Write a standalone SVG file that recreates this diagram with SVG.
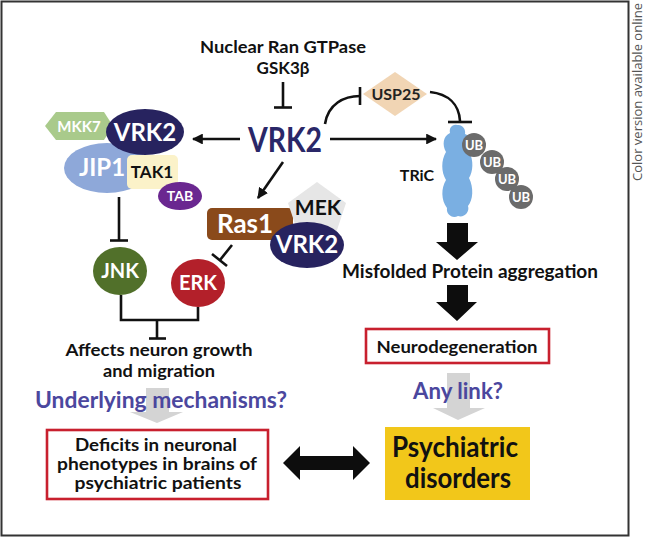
<svg xmlns="http://www.w3.org/2000/svg" width="646" height="539" viewBox="0 0 646 539">
<style>
text{font-family:Lato,"Liberation Sans",sans-serif;font-weight:700;text-anchor:middle}
.w{fill:#fff}
.k{fill:#111}
.p{fill:#4b479e}
.ln{stroke:#111;stroke-width:2.6;fill:none}
.red{fill:#fff;stroke:#c8202e;stroke-width:2.6}
.ga{fill:#d4d4d4}
.ba{fill:#0d0d0d}
</style>
<defs>
<marker id="ah" viewBox="0 0 10 10" refX="9" refY="5" markerWidth="4.2" markerHeight="4.2" orient="auto" markerUnits="strokeWidth">
<path d="M0,0 L10,5 L0,10 Z" fill="#111"/>
</marker>
</defs>
<rect x="1.5" y="1.5" width="627" height="534" fill="#fff" stroke="#333" stroke-width="2"/>
<text x="638" y="92" transform="rotate(-90 638 92)" style="font-family:'Open Sans','Noto Sans',sans-serif;font-weight:400;font-size:12px;fill:#555" textLength="178" lengthAdjust="spacingAndGlyphs" dy="4">Color version available online</text>

<g id="gray-arrows">
<polygon class="ga" points="146,388 169,388 169,412 183,412 157,423 130,412 146,412"/>
<polygon class="ga" points="447,373 470,373 470,408 485,408 458,420 433,408 447,408"/>
</g>

<g id="connectors">
<line class="ln" x1="283" y1="82" x2="283" y2="107"/>
<line class="ln" x1="274" y1="107.5" x2="292" y2="107.5"/>
<line class="ln" x1="240" y1="139" x2="193" y2="139" marker-end="url(#ah)"/>
<line class="ln" x1="330" y1="139" x2="436" y2="139" marker-end="url(#ah)"/>
<line class="ln" x1="283" y1="162" x2="258" y2="198" marker-end="url(#ah)"/>
<path class="ln" d="M325,124 C328,104 344,96 360,96"/>
<line class="ln" x1="360" y1="87" x2="360" y2="105"/>
<path class="ln" d="M430,92 C448,94 459,104 460,121"/>
<line class="ln" x1="448" y1="122" x2="472" y2="122"/>
<line class="ln" x1="119" y1="197" x2="119" y2="240"/>
<line class="ln" x1="110" y1="240.5" x2="128" y2="240.5"/>
<line class="ln" x1="232" y1="245" x2="220" y2="260"/>
<line class="ln" x1="212" y1="254" x2="227" y2="266"/>
<path class="ln" d="M121,295 V320 H198 V307"/>
<line class="ln" x1="157" y1="320" x2="157" y2="338"/>
<line class="ln" x1="149" y1="338.5" x2="166" y2="338.5"/>
<polygon class="ba" points="447,223 468,223 468,242 478,242 457,260 436,242 447,242"/>
<polygon class="ba" points="447,285 468,285 468,302 477,302 457,321 436,302 447,302"/>
<polygon class="ba" points="283,463 300,446 300,456 353,456 353,446 370,463 353,480 353,470 300,470 300,480"/>
</g>

<g id="upstream">
<text class="k" x="283" y="53" style="font-size:17px" textLength="166" lengthAdjust="spacingAndGlyphs">Nuclear Ran GTPase</text>
<text class="k" x="283" y="74" style="font-size:17px">GSK3β</text>
</g>

<g id="vrk2-center">
<text x="285" y="152" style="font-size:34px;fill:#2a2768" textLength="74" lengthAdjust="spacingAndGlyphs">VRK2</text>
</g>

<g id="jip1-complex">
<ellipse cx="107" cy="168" rx="43" ry="25" fill="#8ea8d9"/>
<rect x="127" y="155" width="51" height="34" rx="5" fill="#fbf2c9"/>
<polygon points="45,126 56,112 104,112 113,126 104,140 56,140" fill="#a9ca8b"/>
<ellipse cx="145" cy="132" rx="39" ry="23" fill="#27235f"/>
<text class="w" x="79" y="132" style="font-size:15px">MKK7</text>
<text class="w" x="145" y="141" style="font-size:24px">VRK2</text>
<text class="w" x="102" y="176" style="font-size:24px">JIP1</text>
<text class="k" x="152" y="178" style="font-size:17px">TAK1</text>
<ellipse cx="180" cy="196" rx="22" ry="14" fill="#6a2790"/>
<text class="w" x="180" y="201" style="font-size:14px">TAB</text>
</g>

<g id="jnk">
<ellipse cx="120" cy="271" rx="27" ry="24" fill="#51702a"/>
<text class="w" x="120" y="278" style="font-size:20px">JNK</text>
</g>
<g id="erk">
<ellipse cx="198" cy="283" rx="27" ry="24" fill="#b3202a"/>
<text class="w" x="198" y="290" style="font-size:20px">ERK</text>
</g>

<g id="ras1-complex">
<rect x="207" y="208" width="86" height="32" rx="5" fill="#8a4a1b"/>
<polygon points="317,182 346,203 335,236 299,236 288,203" fill="#e6e6e6"/>
<text class="w" x="245" y="233" style="font-size:26px">Ras1</text>
<text class="k" x="318" y="215" style="font-size:21px">MEK</text>
<ellipse cx="307" cy="245" rx="37" ry="23" fill="#27235f"/>
<text class="w" x="307" y="253" style="font-size:24px">VRK2</text>
</g>

<g id="usp25">
<polygon points="363,94 395,72 427,94 395,116" fill="#f1d5b4"/>
<text class="k" x="396" y="100" style="font-size:16px;fill:#222">USP25</text>
</g>

<g id="tric">
<path d="M457,125 C463,124 466,130 465,134 C471,136 472,146 469,152 C474,160 473,172 469,178 C474,188 473,200 468,206 C470,212 464,218 458,216 C452,219 446,214 447,208 C441,200 441,188 446,180 C441,172 441,160 446,152 C442,145 443,136 450,133 C449,128 452,124 457,125 Z" fill="#7aafe2"/>
<text class="k" x="417" y="181" style="font-size:16px">TRiC</text>
<g fill="#6b6b6b">
<circle cx="474" cy="145" r="12"/><circle cx="492" cy="162" r="12"/><circle cx="507" cy="179" r="12"/><circle cx="521" cy="197" r="12"/>
</g>
<text class="w" x="474" y="150" style="font-size:13px">UB</text>
<text class="w" x="492" y="167" style="font-size:13px">UB</text>
<text class="w" x="507" y="184" style="font-size:13px">UB</text>
<text class="w" x="521" y="202" style="font-size:13px">UB</text>
</g>

<g id="misfolded">
<text class="k" x="470" y="278" style="font-size:18.5px" textLength="256" lengthAdjust="spacingAndGlyphs">Misfolded Protein aggregation</text>
</g>

<g id="neurodegeneration">
<rect class="red" x="366" y="329" width="183" height="34"/>
<text class="k" x="457" y="353" style="font-size:17.5px" textLength="161" lengthAdjust="spacingAndGlyphs">Neurodegeneration</text>
</g>

<g id="any-link">
<text class="p" x="458" y="399" style="font-size:22px" textLength="90" lengthAdjust="spacingAndGlyphs">Any link?</text>
</g>

<g id="affects">
<text class="k" x="159" y="356" style="font-size:17.5px" textLength="187" lengthAdjust="spacingAndGlyphs">Affects neuron growth</text>
<text class="k" x="159" y="377" style="font-size:17.5px" textLength="112" lengthAdjust="spacingAndGlyphs">and migration</text>
</g>

<g id="underlying">
<text class="p" x="161" y="408" style="font-size:22px" textLength="252" lengthAdjust="spacingAndGlyphs">Underlying mechanisms?</text>
</g>

<g id="deficits">
<rect class="red" x="47" y="430" width="221" height="69"/>
<text class="k" x="156" y="451" style="font-size:16.5px" textLength="162" lengthAdjust="spacingAndGlyphs">Deficits in neuronal</text>
<text class="k" x="157" y="470" style="font-size:16.5px" textLength="200" lengthAdjust="spacingAndGlyphs">phenotypes in brains of</text>
<text class="k" x="158" y="489" style="font-size:16.5px" textLength="167" lengthAdjust="spacingAndGlyphs">psychiatric patients</text>
</g>

<g id="psychiatric-disorders">
<rect x="385" y="427" width="145" height="73" fill="#f2c71a"/>
<text class="k" x="455" y="457" style="font-size:28px" textLength="126" lengthAdjust="spacingAndGlyphs">Psychiatric</text>
<text class="k" x="458" y="488" style="font-size:28px" textLength="106" lengthAdjust="spacingAndGlyphs">disorders</text>
</g>
</svg>
